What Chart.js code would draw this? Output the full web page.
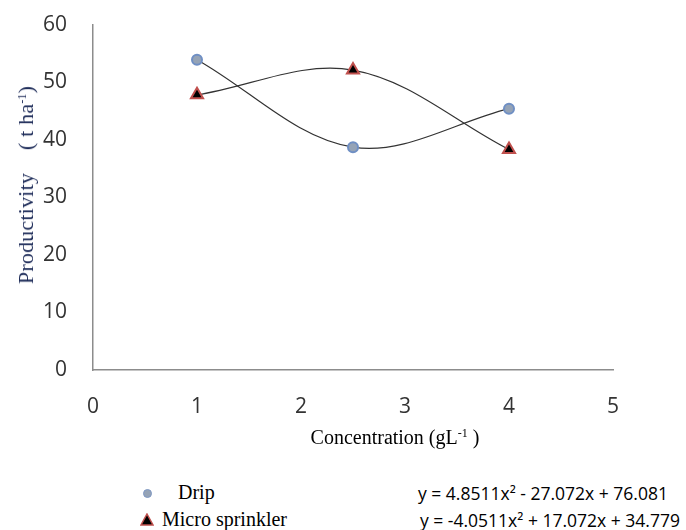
<!DOCTYPE html>
<html>
<head>
<meta charset="utf-8">
<script src="https://cdn.jsdelivr.net/npm/chart.js@4.4.0/dist/chart.umd.min.js"></script>
<style>
  html, body { margin: 0; padding: 0; background: #fff; }
  #wrap { position: relative; width: 686px; height: 530px; overflow: hidden; }
  #grafico { position: absolute; left: 0; top: -6px; }
  .leg { position: absolute; font-family: 'Liberation Serif', serif; font-size: 20px; color: #000; white-space: nowrap; }
  .eq { position: absolute; font-family: 'Open Sans', sans-serif; font-size: 17.5px; color: #000; white-space: nowrap; }
  .mk { position: absolute; }
  .tit { position: absolute; font-family: 'Liberation Serif', serif; font-size: 20px; white-space: nowrap; line-height: 1; }
  .tit sup { font-size: 12px; vertical-align: 7px; line-height: 0; }
  #tit-y { left: 26px; top: 185px; color: #1f2d5a; font-size: 22px; letter-spacing: 0.2px; transform: translate(-50%, -50%) rotate(-90deg); }
  #tit-x { left: 395px; top: 437px; color: #000; transform: translate(-50%, -50%); }
</style>
</head>
<body>
<div id="wrap">
  <canvas id="grafico" width="686" height="466"></canvas>
  <div class="tit" id="tit-y">Productivity&nbsp;&nbsp;&nbsp;&nbsp;( t ha<sup>-1</sup>)</div>
  <div class="tit" id="tit-x">Concentration (gL<sup>-1</sup> )</div>
  <svg class="mk" style="left:142px;top:488px" width="11" height="11"><circle cx="5.5" cy="5.5" r="4" fill="#95a3b6" stroke="#7f98c4" stroke-width="1"/></svg>
  <div class="leg" style="left:178px;top:481px">Drip</div>
  <svg class="mk" style="left:140px;top:513px" width="14" height="13"><polygon points="7,1 13,12 1,12" fill="#000" stroke="#c0504d" stroke-width="1.5"/></svg>
  <div class="leg" style="left:162px;top:508px">Micro sprinkler</div>
  <div class="eq" style="left:418px;top:481px">y = 4.8511x² - 27.072x + 76.081</div>
  <div class="eq" style="left:420px;top:508px">y = -4.0511x² + 17.072x + 34.779</div>
</div>
<script>
/* valores */
const CONCENTRACAO = [1, 2.5, 4];
const GOTEJO = [53.9, 38.7, 45.4];
const MICRO = [47.8, 52.1, 38.3];
const TICKS_X = [0, 1, 2, 3, 4, 5];
const TICKS_Y = [0, 10, 20, 30, 40, 50, 60];

const pontos = (ys) => CONCENTRACAO.map((x, i) => ({ x: x, y: ys[i] }));

const ctx = document.getElementById('grafico').getContext('2d');

new Chart(ctx, {
  type: 'scatter',
  data: {
    datasets: [
      {
        label: 'Drip',
        data: pontos(GOTEJO),
        showLine: true,
        tension: 0.35,
        borderColor: '#333',
        borderWidth: 1.2,
        pointStyle: 'circle',
        pointRadius: 5,
        pointBackgroundColor: '#95a3b6',
        pointBorderColor: '#6f8fc4',
        pointBorderWidth: 2,
      },
      {
        label: 'Micro sprinkler',
        data: pontos(MICRO),
        showLine: true,
        tension: 0.35,
        borderColor: '#333',
        borderWidth: 1.2,
        pointStyle: 'triangle',
        pointRadius: 7,
        pointBackgroundColor: '#000',
        pointBorderColor: '#c0504d',
        pointBorderWidth: 2,
      },
    ],
  },
  options: {
    responsive: false,
    animation: false,
    layout: { padding: { left: 0, right: 73, top: 0, bottom: 0 } },
    plugins: { legend: { display: false }, tooltip: { enabled: false } },
    scales: {
      x: {
        type: 'linear',
        min: 0,
        max: 5,
        afterBuildTicks: (s) => { s.ticks = TICKS_X.map(v => ({ value: v })); },
        grid: { display: false },
        border: { display: true, color: '#8c8c8c', width: 1.5 },
        ticks: { color: '#333', padding: 16, font: { family: 'Open Sans', size: 21 } },
        afterFit: (s) => { s.height = 90; },
      },
      y: {
        min: 0,
        max: 60,
        afterBuildTicks: (s) => { s.ticks = TICKS_Y.map(v => ({ value: v })); },
        grid: { display: false },
        border: { display: true, color: '#8c8c8c', width: 1.5 },
        ticks: { color: '#333', padding: 18, font: { family: 'Open Sans', size: 21 } },
        afterFit: (s) => { s.width = 93; },
      },
    },
  },
});
</script>
</body>
</html>
